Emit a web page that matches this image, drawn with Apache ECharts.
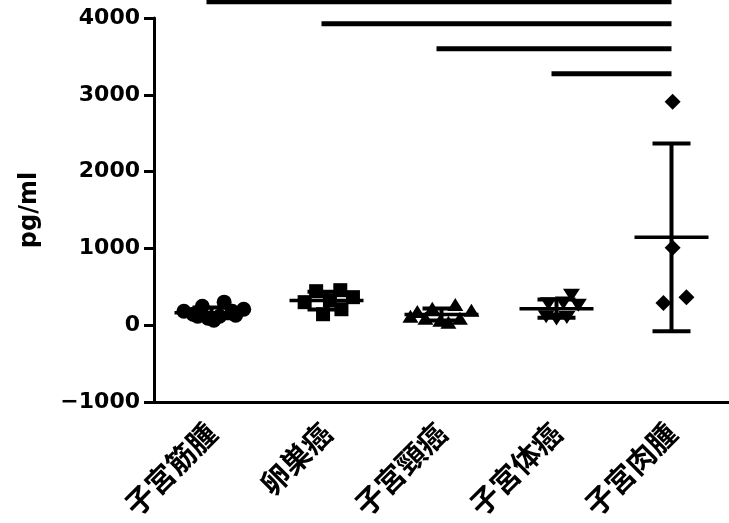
<!DOCTYPE html>
<html><head><meta charset="utf-8">
<script src="https://cdn.jsdelivr.net/npm/echarts/dist/echarts.min.js"></script>
<style>html,body{margin:0;padding:0;background:#fff}#c{width:729px;height:523px}</style>
</head><body><div id="c"></div>
<script>
const categories = ['子宮筋腫', '卵巣癌', '子宮頸癌', '子宮体癌', '子宮肉腫'];
const yName = 'pg/ml';
const yTicks = [-1000, 0, 1000, 2000, 3000, 4000];

// values (pg/ml), one array per group
const valsMyoma = [182, 143, 247, 91, 65, 117, 300, 182, 208, 117, 130];
const valsOvary = [300, 443, 143, 456, 208, 365, 325];
const valsCervix = [180, 220, 270, 195, 90, 65, 40, 90, 115];
const valsCorpus = [390, 280, 290, 260, 110, 80, 100];
const valsSarcoma = [2910, 1010, 290, 365];

// horizontal scatter (jitter) of each point, in category widths
const jitMyoma = [-0.24, -0.16, -0.08, -0.03, 0.02, 0.07, 0.11, 0.18, 0.28, -0.12, 0.21];
const jitOvary = [-0.19, -0.09, -0.03, 0.12, 0.13, 0.23, 0.03];
const jitCervix = [-0.21, -0.08, 0.12, 0.26, -0.14, -0.01, 0.06, 0.16, -0.27];
const jitCorpus = [0.13, -0.07, 0.06, 0.19, -0.09, 0.0, 0.09];
const jitSarcoma = [0.01, 0.01, -0.07, 0.13];

// significance brackets: [from group, to group], level in pg/ml
const comparisons = [[0, 4], [1, 4], [2, 4], [3, 4]];
const compLevels = [4212, 3926, 3600, 3275];

const groups = [valsMyoma, valsOvary, valsCervix, valsCorpus, valsSarcoma];
const jitters = [jitMyoma, jitOvary, jitCervix, jitCorpus, jitSarcoma];
const symbols = [
  {symbol: 'circle', size: 15, rot: 0},
  {symbol: 'rect', size: 14, rot: 0},
  {symbol: 'triangle', size: [16, 13], rot: 0},
  {symbol: 'triangle', size: [17, 13], rot: 180},
  {symbol: 'diamond', size: 16, rot: 0}
];

function mean(a) { return a.reduce((s, v) => s + v, 0) / a.length; }
function sd(a) { const m = mean(a); return Math.sqrt(a.reduce((s, v) => s + (v - m) * (v - m), 0) / (a.length - 1)); }

const scatterSeries = groups.map((vals, gi) => ({
  type: 'scatter',
  xAxisIndex: 1,
  symbol: symbols[gi].symbol,
  symbolSize: symbols[gi].size,
  symbolRotate: symbols[gi].rot,
  itemStyle: {color: '#000', opacity: 1},
  emphasis: {disabled: true},
  data: vals.map((v, i) => [gi + jitters[gi][i], v]),
  z: 4
}));

const statData = groups.map((vals, gi) => [gi, mean(vals), sd(vals)]);

const chart = echarts.init(document.getElementById('c'), null, {renderer: 'canvas'});
chart.setOption({
  animation: false,
  backgroundColor: '#fff',
  grid: {left: 154, right: 0, top: 18, bottom: 121, containLabel: false, outerBoundsMode: 'none'},
  xAxis: [{
    type: 'category',
    data: categories,
    boundaryGap: true,
    axisLine: {onZero: false, lineStyle: {color: '#000', width: 3}},
    axisTick: {alignWithLabel: true, length: 10, lineStyle: {color: '#000', width: 3}},
    axisLabel: {
      interval: 0, rotate: 45, margin: 26, color: '#000',
      fontFamily: 'Noto Sans CJK JP', fontWeight: 'bold', fontSize: 29
    },
    splitLine: {show: false}
  }, {
    type: 'value', min: -0.5, max: 4.5, show: false,
    axisLine: {onZero: false}
  }],
  yAxis: {
    type: 'value',
    min: yTicks[0], max: yTicks[yTicks.length - 1], interval: 1000,
    name: yName, nameLocation: 'middle', nameRotate: 90, nameGap: 112,
    nameTextStyle: {color: '#000', fontFamily: 'DejaVu Sans', fontWeight: 'bold', fontSize: 24},
    axisLine: {show: true, onZero: false, lineStyle: {color: '#000', width: 3}},
    axisTick: {show: true, length: 10, lineStyle: {color: '#000', width: 3}},
    axisLabel: {
      margin: 14, color: '#000', fontFamily: 'DejaVu Sans', fontWeight: 'bold', fontSize: 22,
      formatter: v => (v < 0 ? '\u2212' + Math.abs(v) : String(v))
    },
    splitLine: {show: false}
  },
  series: scatterSeries.concat([{
    type: 'custom',
    xAxisIndex: 1,
    z: 3,
    clip: false,
    data: statData,
    renderItem: function (params, api) {
      const x = api.value(0), m = api.value(1), s = api.value(2);
      const c = api.coord([x, m]);
      const t = api.coord([x, m + s]);
      const b = api.coord([x, m - s]);
      const st = {stroke: '#000', lineWidth: 4};
      return {type: 'group', children: [
        {type: 'line', shape: {x1: c[0] - 37, y1: c[1], x2: c[0] + 37, y2: c[1]}, style: {stroke: '#000', lineWidth: 3.5}},
        {type: 'line', shape: {x1: c[0], y1: t[1], x2: c[0], y2: b[1]}, style: st},
        {type: 'line', shape: {x1: c[0] - 19, y1: t[1], x2: c[0] + 19, y2: t[1]}, style: st},
        {type: 'line', shape: {x1: c[0] - 19, y1: b[1], x2: c[0] + 19, y2: b[1]}, style: st}
      ]};
    }
  }, {
    type: 'custom',
    xAxisIndex: 1,
    z: 3,
    clip: false,
    data: comparisons.map((p, i) => [p[0], p[1], compLevels[i]]),
    renderItem: function (params, api) {
      const a = api.coord([api.value(0), api.value(2)]);
      const b = api.coord([api.value(1), api.value(2)]);
      return {type: 'line', shape: {x1: a[0] - 5, y1: a[1], x2: b[0], y2: b[1]}, style: {stroke: '#000', lineWidth: 5}};
    }
  }])
});
</script>
</body></html>
